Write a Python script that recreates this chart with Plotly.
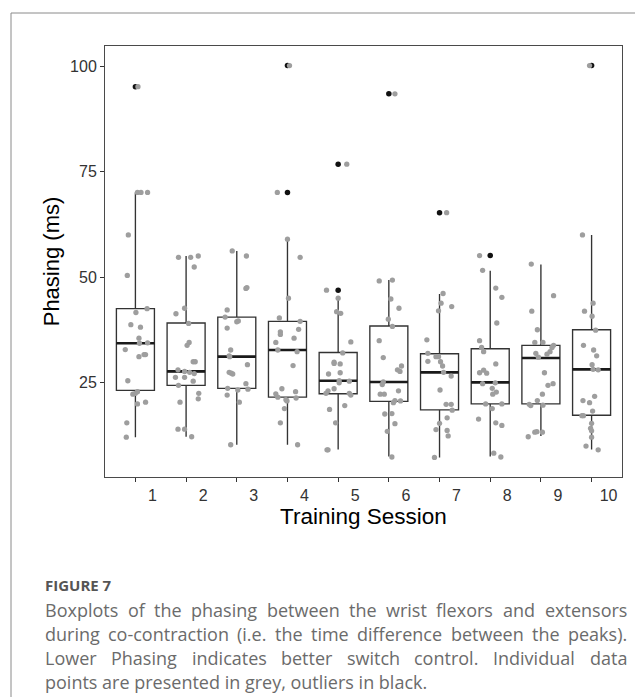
import plotly.graph_objects as go

# ---------------- data ----------------
sessions = [1, 2, 3, 4, 5, 6, 7, 8, 9, 10]
tick_labels = ["1", "2", "3", "4", "5", "6", "7", "8", "9", "10"]

q1 = [23.1, 24.3, 23.6, 21.5, 22.3, 20.5, 18.5, 19.9, 19.9, 17.2]
median = [34.3, 27.6, 31.1, 32.7, 25.4, 25.1, 27.4, 25.0, 30.8, 28.1]
q3 = [42.5, 39.1, 40.5, 39.5, 32.1, 38.4, 31.8, 33.0, 33.8, 37.5]
lower_whisker = [12.0, 12.1, 10.2, 10.2, 9.1, 7.4, 7.2, 7.4, 12.3, 9.1]
upper_whisker = [70.1, 55.0, 56.2, 59.0, 45.0, 49.3, 46.0, 51.5, 53.0, 60.0]

outlier_session = [1, 4, 4, 5, 5, 6, 7, 8, 10]
outlier_value = [95.2, 100.2, 70.1, 76.8, 46.9, 93.5, 65.3, 55.1, 100.2]

s1_y = [95.2, 70.1, 70.1, 70.1, 60.0, 50.4, 42.5, 41.6, 38.7, 38.1, 35.5, 34.3, 34.4, 32.8, 31.1, 31.6, 31.6, 25.4, 22.2, 22.4, 22.8, 19.9, 20.3, 15.4, 12.0]
s1_j = [0.05, 0.04, 0.11, 0.24, -0.14, -0.16, 0.23, 0.01, -0.09, 0.10, 0.07, 0.08, 0.24, -0.20, 0.07, 0.17, 0.20, -0.15, -0.05, 0.0, 0.04, 0.04, 0.20, -0.17, -0.18]
s2_y = [54.7, 54.7, 55.0, 52.4, 42.6, 41.3, 39.0, 34.5, 33.8, 29.9, 29.9, 28.0, 27.6, 27.4, 27.1, 26.2, 26.2, 25.3, 24.3, 22.4, 21.1, 20.3, 13.9, 13.9, 12.1]
s2_j = [-0.15, 0.09, 0.24, 0.16, -0.03, -0.20, 0.05, 0.06, 0.02, 0.14, 0.18, -0.16, -0.03, 0.07, 0.16, -0.21, -0.03, 0.14, -0.15, 0.25, 0.24, -0.12, -0.16, -0.03, 0.11]
s3_y = [56.2, 55.0, 47.3, 47.5, 42.2, 40.5, 39.4, 39.6, 37.9, 32.7, 31.3, 31.1, 29.2, 27.4, 27.2, 27.0, 24.7, 23.6, 23.2, 23.4, 22.0, 20.3, 10.2]
s3_j = [-0.09, 0.19, 0.18, 0.20, -0.19, -0.23, 0.0, 0.03, -0.19, -0.12, -0.15, -0.14, 0.21, -0.15, -0.11, -0.08, 0.18, -0.18, 0.02, 0.22, -0.19, 0.05, -0.12]
s4_y = [100.2, 70.1, 59.0, 54.7, 45.0, 40.3, 39.5, 37.0, 36.4, 35.5, 37.6, 34.5, 32.7, 32.3, 29.0, 23.5, 22.8, 22.3, 21.5, 20.9, 20.6, 21.3, 18.8, 15.4, 10.2]
s4_j = [0.04, -0.20, 0.0, 0.25, 0.02, -0.16, 0.25, -0.14, -0.14, 0.13, 0.22, -0.23, -0.19, 0.19, 0.11, -0.11, 0.16, -0.23, -0.19, -0.03, -0.01, 0.17, -0.06, -0.14, 0.20]
s5_y = [76.8, 46.9, 45.0, 41.8, 41.4, 34.6, 32.0, 29.8, 29.5, 29.4, 27.0, 27.3, 25.4, 24.9, 25.3, 23.5, 23.0, 22.4, 22.4, 22.0, 18.6, 19.5, 15.4, 9.0, 9.0]
s5_j = [0.17, -0.23, 0.0, -0.03, 0.05, 0.25, 0.09, -0.08, -0.08, 0.04, -0.19, 0.04, 0.02, 0.02, 0.22, -0.08, -0.20, -0.24, 0.22, 0.25, -0.17, 0.13, -0.05, -0.22, -0.20]
s6_y = [93.5, 49.1, 49.3, 44.8, 42.6, 40.0, 38.3, 34.9, 30.9, 28.9, 28.0, 27.6, 25.1, 24.5, 22.2, 22.2, 23.0, 20.7, 20.2, 20.6, 17.5, 17.6, 15.2, 13.4, 7.3]
s6_j = [0.12, -0.19, 0.07, 0.04, 0.20, -0.01, 0.07, -0.19, -0.11, 0.25, 0.17, 0.22, -0.11, -0.13, -0.17, -0.09, 0.19, 0.12, 0.09, 0.23, -0.08, 0.06, 0.12, -0.03, 0.06]
s7_y = [65.3, 46.1, 43.8, 42.0, 43.0, 35.1, 31.9, 30.0, 31.1, 31.1, 29.9, 28.9, 27.4, 26.5, 23.2, 19.8, 19.8, 18.4, 15.3, 16.6, 13.8, 13.6, 12.3, 7.2]
s7_j = [0.14, 0.07, 0.03, -0.02, 0.24, -0.25, -0.23, -0.23, -0.07, -0.02, 0.02, 0.06, 0.08, 0.23, 0.01, 0.13, 0.23, 0.25, 0.0, 0.15, -0.07, 0.15, 0.17, -0.10]
s8_y = [55.1, 51.6, 47.4, 45.2, 39.1, 34.9, 33.3, 32.3, 29.4, 27.3, 27.9, 27.2, 24.7, 24.9, 23.6, 22.7, 22.2, 19.9, 19.9, 18.8, 16.3, 15.4, 14.8, 8.2, 7.3]
s8_j = [-0.21, -0.15, 0.11, 0.23, 0.13, -0.21, -0.17, -0.13, 0.11, -0.21, -0.13, -0.07, -0.15, 0.10, 0.04, 0.12, 0.05, -0.09, 0.23, 0.04, -0.23, 0.11, 0.23, 0.07, 0.21]
s9_y = [53.1, 45.6, 41.9, 37.5, 34.5, 34.5, 33.8, 33.3, 32.3, 31.7, 31.9, 31.0, 27.3, 24.3, 24.7, 22.2, 20.7, 19.8, 19.5, 19.6, 13.2, 13.3, 13.2, 12.1]
s9_j = [-0.19, 0.25, -0.18, -0.07, -0.12, 0.04, 0.25, 0.22, 0.18, 0.12, -0.10, -0.05, 0.07, 0.14, 0.24, 0.03, -0.07, -0.23, -0.20, 0.04, -0.12, -0.08, 0.03, -0.25]
s10_y = [100.2, 60.0, 43.8, 41.9, 40.7, 37.4, 33.8, 32.7, 31.3, 29.2, 28.1, 28.0, 20.7, 20.2, 21.7, 18.2, 17.1, 17.1, 15.3, 14.1, 13.5, 12.0, 9.9, 9.0]
s10_j = [-0.04, -0.18, 0.03, -0.14, 0.01, 0.08, -0.16, 0.04, 0.10, 0.01, 0.03, 0.13, -0.17, -0.04, 0.06, 0.02, -0.19, -0.16, 0.0, -0.02, 0.0, 0.0, -0.11, 0.13]

caption_title = "FIGURE 7"
caption_lines = [
    "Boxplots of the phasing between the wrist flexors and extensors",
    "during co-contraction (i.e. the time difference between the peaks).",
    "Lower Phasing indicates better switch control. Individual data",
    "points are presented in grey, outliers in black.",
]

# ---------------- layout geometry (screen px) ----------------
OFF = 8                      # browser body margin
SW, SH = 643, 697
W, H = SW - OFF, SH - OFF
PL, PR, PT, PB = 105, 622, 46, 477   # plot area on screen


def px_x(x):
    return (x - PL) / (PR - PL)


def px_y(y):
    return (PB - y) / (PB - PT)


fig = go.Figure()
box_w = 0.75

fig.add_trace(go.Box(
    x=sessions, q1=q1, median=median, q3=q3,
    lowerfence=lower_whisker, upperfence=upper_whisker,
    width=box_w, boxpoints=False,
    fillcolor="white", line=dict(color="#333333", width=1.35),
    whiskerwidth=0, showlegend=False, hoverinfo="skip",
))

mx, my = [], []
for s, m in zip(sessions, median):
    mx += [s - box_w / 2, s + box_w / 2, None]
    my += [m, m, None]
fig.add_trace(go.Scatter(x=mx, y=my, mode="lines",
                         line=dict(color="#1a1a1a", width=2.7),
                         showlegend=False, hoverinfo="skip"))

fig.add_trace(go.Scatter(x=outlier_session, y=outlier_value, mode="markers",
                         marker=dict(color="#111111", size=5.5),
                         showlegend=False, hoverinfo="skip"))

all_y = [s1_y, s2_y, s3_y, s4_y, s5_y, s6_y, s7_y, s8_y, s9_y, s10_y]
all_j = [s1_j, s2_j, s3_j, s4_j, s5_j, s6_j, s7_j, s8_j, s9_j, s10_j]
gx, gy = [], []
for s, ys, js in zip(sessions, all_y, all_j):
    for v, j in zip(ys, js):
        gx.append(s + j)
        gy.append(v)
fig.add_trace(go.Scatter(x=gx, y=gy, mode="markers",
                         marker=dict(color="#9e9e9e", size=5.3),
                         showlegend=False, hoverinfo="skip"))

axis_font = dict(family="Liberation Sans, Arial, sans-serif", size=16, color="#333333")
xtitle_font = dict(family="Liberation Sans, Arial, sans-serif", size=22.5, color="#000000")
ytitle_font = dict(family="Liberation Sans, Arial, sans-serif", size=22, color="#000000")

fig.update_xaxes(
    range=[0.4, 10.6], tickmode="array", tickvals=sessions, ticktext=tick_labels,
    ticks="outside", ticklen=4, tickcolor="#333333", tickwidth=1,
    showline=True, linecolor="#4a4a4a", linewidth=1, mirror=True,
    showgrid=False, zeroline=False, tickfont=axis_font, ticklabelshift=17,
    title=dict(text="Training Session", font=xtitle_font, standoff=3),
)
fig.update_yaxes(
    range=[2.55, 104.85], tickmode="array", tickvals=[25, 50, 75, 100],
    ticks="outside", ticklen=4, tickcolor="#333333", tickwidth=1,
    showline=True, linecolor="#4a4a4a", linewidth=1, mirror=True,
    showgrid=False, zeroline=False, tickfont=axis_font,
    title=dict(text="Phasing (ms)", font=ytitle_font, standoff=4),
)

shapes = [dict(type="rect", xref="paper", yref="paper",
               x0=px_x(11), x1=px_x(670), y0=px_y(720), y1=px_y(13),
               line=dict(color="#8a8a8a", width=1), fillcolor="rgba(0,0,0,0)",
               layer="below")]

# approximate Open Sans advance widths (units per 2048 em) for justification
OS_W = {" ": 532, "(": 604, ")": 604, ",": 500, "-": 659, ".": 545,
        "B": 1300, "I": 571, "L": 1077, "P": 1219,
        "a": 1139, "b": 1255, "c": 975, "d": 1255, "e": 1149, "f": 694, "g": 1122,
        "h": 1257, "i": 518, "k": 1075, "l": 518, "m": 1905, "n": 1257, "o": 1237,
        "p": 1255, "r": 836, "s": 977, "t": 723, "u": 1257, "v": 1026, "w": 1593,
        "x": 1073, "y": 1028}
CAP_FS = 18
CAP_L, CAP_R = 45, 627
cap_font = dict(family="Open Sans, sans-serif", size=CAP_FS, color="#6b6b6b")


def word_w(w):
    return sum(OS_W.get(c, 1100) for c in w) / 2048 * CAP_FS


annotations = [dict(text="<b>" + caption_title + "</b>", xref="paper", yref="paper",
                    x=px_x(CAP_L), y=px_y(585), xanchor="left", yanchor="middle",
                    showarrow=False, borderpad=0, borderwidth=0,
                    font=dict(family="Open Sans, sans-serif", size=15, color="#555555"))]
line_y = [610, 634, 658, 682]
for i, line in enumerate(caption_lines):
    yv = px_y(line_y[i])
    if i == len(caption_lines) - 1:
        annotations.append(dict(text=line, xref="paper", yref="paper", x=px_x(CAP_L), y=yv,
                                xanchor="left", yanchor="middle", showarrow=False,
                                borderpad=0, borderwidth=0, font=cap_font))
        continue
    words = line.split(" ")
    widths = [word_w(w) for w in words]
    gap = (CAP_R - CAP_L - sum(widths)) / (len(words) - 1)
    xcur = CAP_L
    for k, (w, ww) in enumerate(zip(words, widths)):
        if k == len(words) - 1:
            annotations.append(dict(text=w, xref="paper", yref="paper", x=px_x(CAP_R), y=yv,
                                    xanchor="right", yanchor="middle", showarrow=False,
                                    borderpad=0, borderwidth=0, font=cap_font))
        else:
            annotations.append(dict(text=w, xref="paper", yref="paper", x=px_x(xcur), y=yv,
                                    xanchor="left", yanchor="middle", showarrow=False,
                                    borderpad=0, borderwidth=0, font=cap_font))
        xcur += ww + gap

fig.update_layout(
    width=W, height=H, autosize=False,
    margin=dict(l=PL - OFF, r=SW - PR, t=PT - OFF, b=SH - PB, pad=0),
    paper_bgcolor="white", plot_bgcolor="white",
    shapes=shapes, annotations=annotations, showlegend=False,
)

fig.write_html("out.html")
